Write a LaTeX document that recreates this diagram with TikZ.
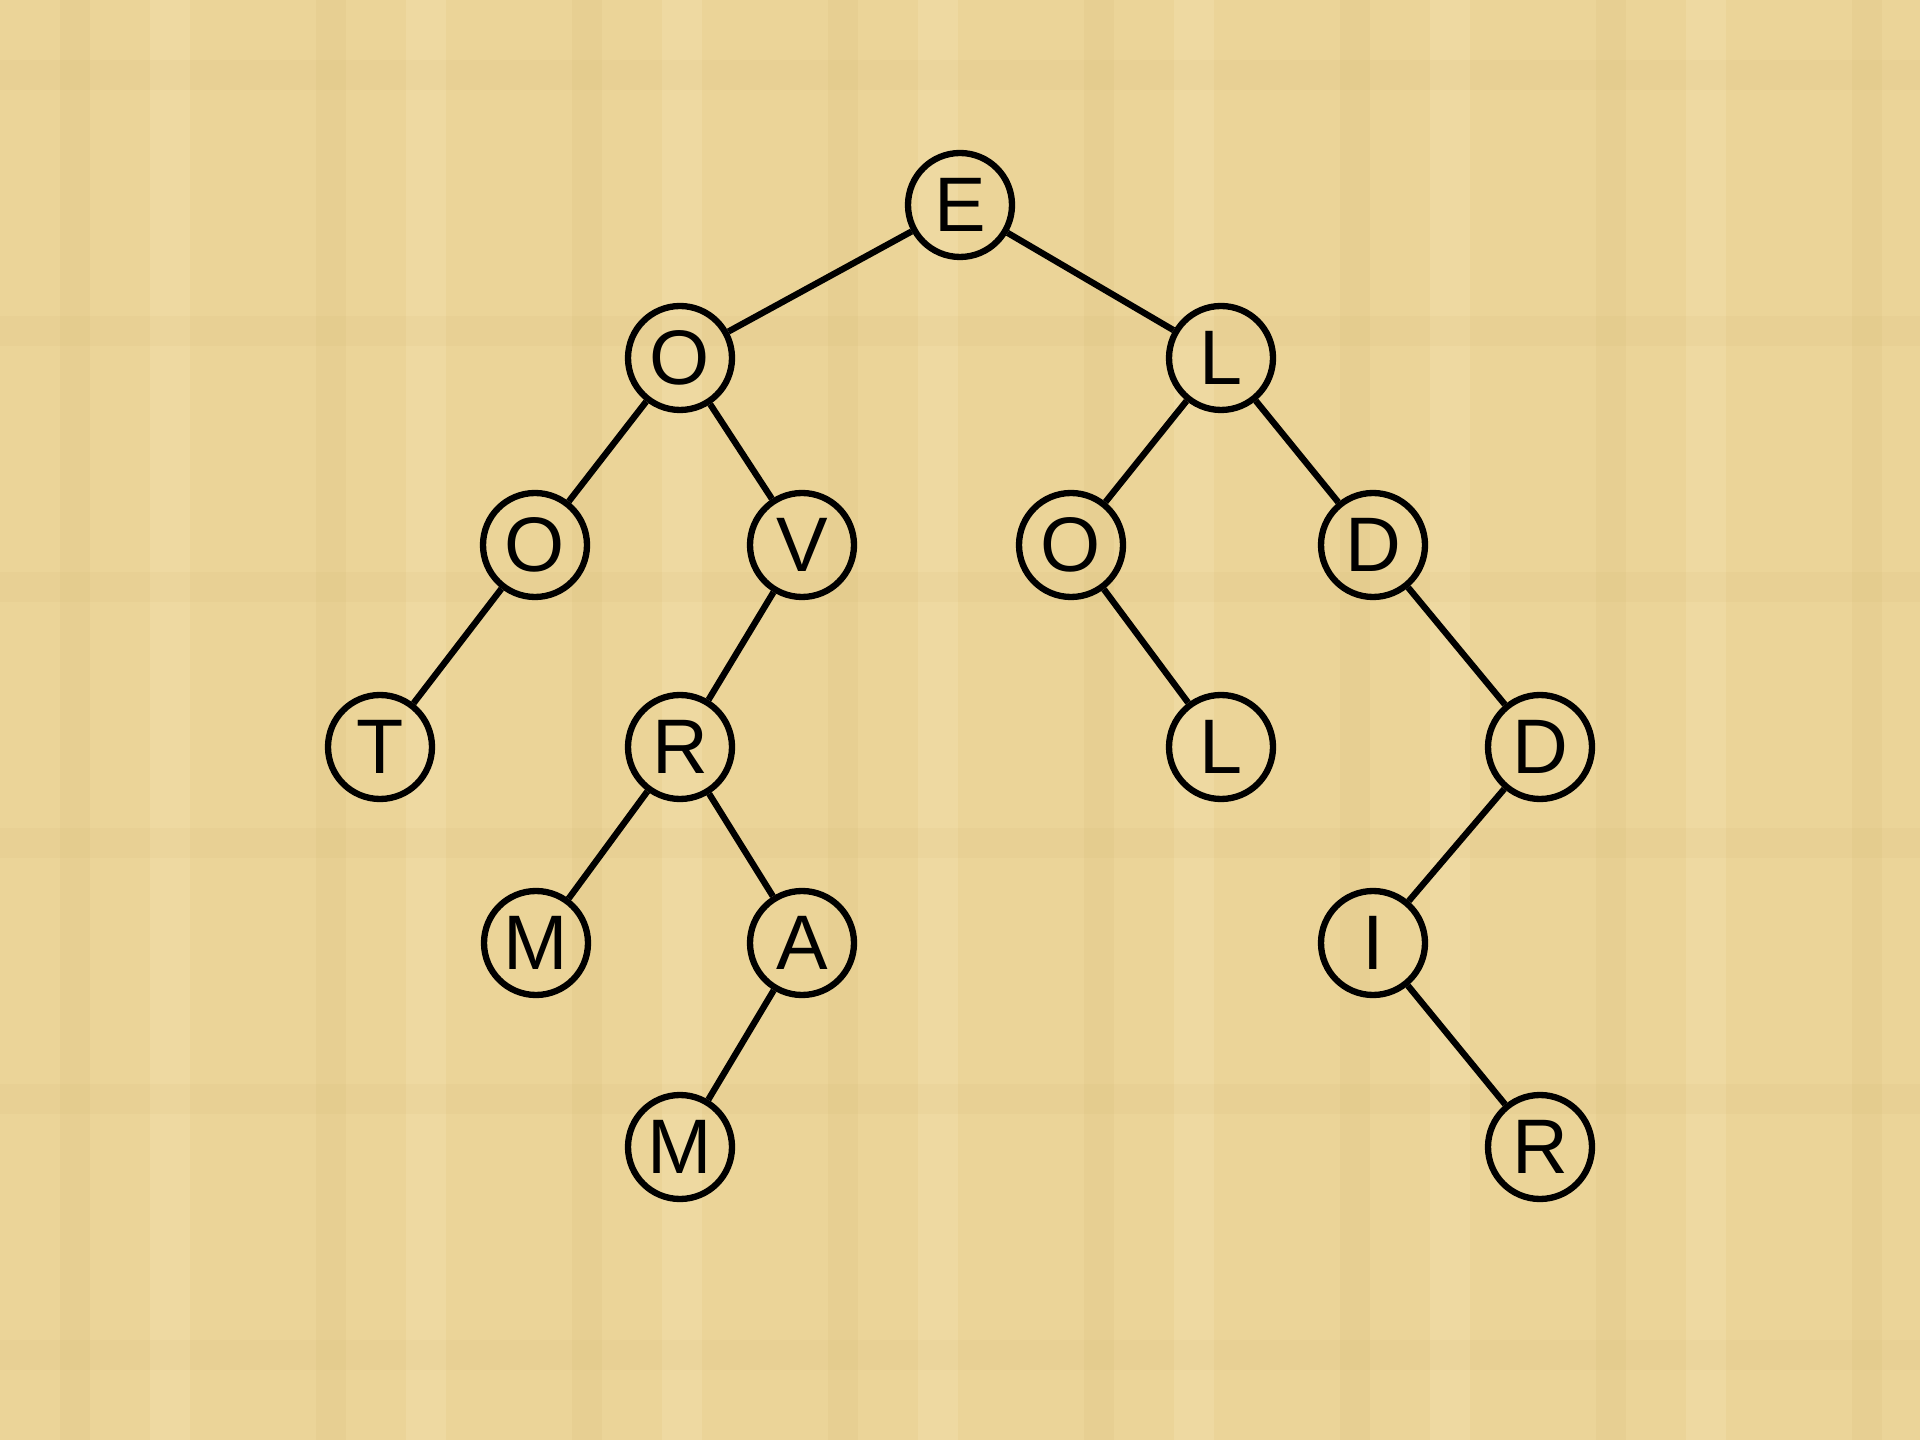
\documentclass[tikz,border=0pt]{standalone}
\usepackage{fontspec}
\setmainfont{Liberation Sans}
\usepackage{tikz}
\definecolor{papyrus}{RGB}{235,212,152}
\definecolor{papyrusdark}{RGB}{214,186,120}
\definecolor{papyruslight}{RGB}{244,228,180}

\begin{document}
\begin{tikzpicture}[
  letter/.style={draw, circle, line width=1.8pt, minimum size=10.4mm, inner sep=0pt, font=\fontsize{22}{22}\selectfont},
  edge/.style={line width=1.8pt}
]
% background
\useasboundingbox (0,0) rectangle (19.2,14.4);
\begin{scope}
\clip (0,0) rectangle (19.2,14.4);
\fill[papyrus] (0,0) rectangle (19.2,14.4);
\foreach \x in {0,2.56,...,19.2} {
  \fill[papyrusdark, opacity=0.18] (\x+0.6,0) rectangle (\x+0.9,14.4);
  \fill[papyruslight, opacity=0.35] (\x+1.5,0) rectangle (\x+1.9,14.4);
}
\foreach \y in {0,2.56,...,14.4} {
  \fill[papyrusdark, opacity=0.12] (0,\y+0.7) rectangle (19.2,\y+1.0);
}
\end{scope}
% nodes
\node[letter] (e)  at (9.60,12.35) {E};
\node[letter] (o1) at (6.80,10.82) {O};
\node[letter] (l1) at (12.21,10.82) {L};
\node[letter] (o2) at (5.35,8.95) {O};
\node[letter] (v)  at (8.02,8.95) {V};
\node[letter] (o3) at (10.71,8.95) {O};
\node[letter] (d1) at (13.73,8.95) {D};
\node[letter] (t)  at (3.80,6.93) {T};
\node[letter] (r1) at (6.80,6.93) {R};
\node[letter] (l2) at (12.21,6.93) {L};
\node[letter] (d2) at (15.40,6.93) {D};
\node[letter] (m1) at (5.36,4.97) {M};
\node[letter] (a)  at (8.02,4.97) {A};
\node[letter] (i)  at (13.73,4.97) {I};
\node[letter] (m2) at (6.80,2.93) {M};
\node[letter] (r2) at (15.40,2.93) {R};
% edges
\draw[edge] (e) -- (o1);
\draw[edge] (e) -- (l1);
\draw[edge] (o1) -- (o2);
\draw[edge] (o1) -- (v);
\draw[edge] (l1) -- (o3);
\draw[edge] (l1) -- (d1);
\draw[edge] (o2) -- (t);
\draw[edge] (v) -- (r1);
\draw[edge] (o3) -- (l2);
\draw[edge] (d1) -- (d2);
\draw[edge] (r1) -- (m1);
\draw[edge] (r1) -- (a);
\draw[edge] (d2) -- (i);
\draw[edge] (a) -- (m2);
\draw[edge] (i) -- (r2);
\end{tikzpicture}
\end{document}
